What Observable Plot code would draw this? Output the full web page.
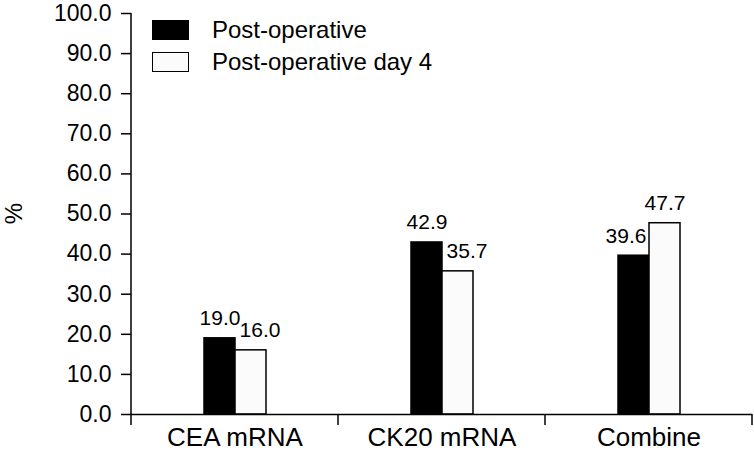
<!DOCTYPE html>
<html>
<head>
<meta charset="utf-8">
<script src="https://cdn.jsdelivr.net/npm/d3@7"></script>
<script src="https://cdn.jsdelivr.net/npm/@observablehq/plot@0.6"></script>
<style>
  body { margin: 0; background: #fff; font-family: Arial, "Liberation Sans", sans-serif; }
  #wrap { position: relative; width: 754px; height: 457px; }
  #legend { position: absolute; left: 152px; top: 14px; font-size: 24px; color: #000; }
  .row { display: flex; align-items: center; height: 32px; }
  .sw { width: 37px; height: 20px; box-sizing: border-box; border: 1.5px solid #000; margin-right: 23px; }
</style>
</head>
<body>
<div id="wrap">
  <div id="chart"></div>
  <div id="legend"></div>
</div>
<script>
const categories = ["CEA mRNA", "CK20 mRNA", "Combine"];
const series = ["Post-operative", "Post-operative day 4"];
const postOperative = [19.0, 42.9, 39.6];
const postOperativeDay4 = [16.0, 35.7, 47.7];
const yTicks = [0, 10, 20, 30, 40, 50, 60, 70, 80, 90, 100];
const colors = ["#000000", "#fbfbfb"];

const data = [];
categories.forEach((c, i) => {
  data.push({cat: c, series: series[0], value: postOperative[i], other: postOperativeDay4[i]});
  data.push({cat: c, series: series[1], value: postOperativeDay4[i], other: postOperative[i]});
});

const font = "Arial, 'Liberation Sans', sans-serif";
const label = d => d.value.toFixed(1);

const plot = Plot.plot({
  width: 754,
  height: 457,
  marginLeft: 131,
  marginRight: 2,
  marginTop: 13,
  marginBottom: 43,
  style: {fontFamily: font, color: "#000", background: "#fff", overflow: "visible"},
  fx: {domain: categories, padding: 0},
  x: {domain: series, paddingInner: 0, paddingOuter: 2.29, axis: null},
  y: {domain: [0, 100], axis: null},
  color: {domain: series, range: colors},
  marks: [
    Plot.axisY({ticks: yTicks, tickFormat: d => d.toFixed(1), tickSize: 10, tickPadding: 10, fontSize: 23, label: null, facetAnchor: "left", strokeWidth: 1.5}),
    Plot.axisFx({anchor: "bottom", tickSize: 0, tickPadding: 13, fontSize: 26, label: null}),
    Plot.barY(data, {fx: "cat", x: "series", y: "value", fill: "series", stroke: "#000", strokeWidth: 1.5}),
    Plot.ruleY([0], {stroke: "#000", strokeWidth: 1.5}),
    Plot.text(data.filter(d => d.value >= d.other), {fx: "cat", x: "series", y: "value", text: label, fontSize: 21, lineAnchor: "bottom", dy: -13, fill: "#000"}),
    Plot.text(data.filter(d => d.value < d.other && d.series === series[0]), {fx: "cat", x: "series", y: "value", text: label, fontSize: 21, lineAnchor: "bottom", dy: -13, dx: -8, fill: "#000"}),
    Plot.text(data.filter(d => d.value < d.other && d.series === series[1]), {fx: "cat", x: "series", y: "value", text: label, fontSize: 21, lineAnchor: "bottom", dy: -13, dx: 9, fill: "#000"})
  ]
});

// Y axis line, x-axis boundary ticks and "%" label, placed with the library's scales
const svg = d3.select(plot);
const fx = plot.scale("fx");
const y = plot.scale("y");
const bw = fx.bandwidth;
const x0 = fx.apply(categories[0]);
const y0 = y.apply(0), y100 = y.apply(100);
svg.append("line").attr("x1", x0).attr("x2", x0).attr("y1", y100).attr("y2", y0)
  .attr("stroke", "#000").attr("stroke-width", 1.5);
const bounds = categories.map(c => fx.apply(c)).concat([fx.apply(categories[categories.length - 1]) + bw]);
bounds.forEach(b => {
  svg.append("line").attr("x1", b).attr("x2", b).attr("y1", y0).attr("y2", y0 + 11)
    .attr("stroke", "#000").attr("stroke-width", 1.5);
});
svg.append("text").attr("transform", `translate(22,${(y0 + y100) / 2}) rotate(-90)`)
  .attr("text-anchor", "middle").attr("font-size", 24).attr("font-family", font).text("%");

document.getElementById("chart").appendChild(plot);

const legend = document.getElementById("legend");
series.forEach((s, i) => {
  const row = document.createElement("div");
  row.className = "row";
  const sw = document.createElement("div");
  sw.className = "sw";
  sw.style.background = colors[i];
  const t = document.createElement("span");
  t.textContent = s;
  row.appendChild(sw);
  row.appendChild(t);
  legend.appendChild(row);
});
</script>
</body>
</html>
